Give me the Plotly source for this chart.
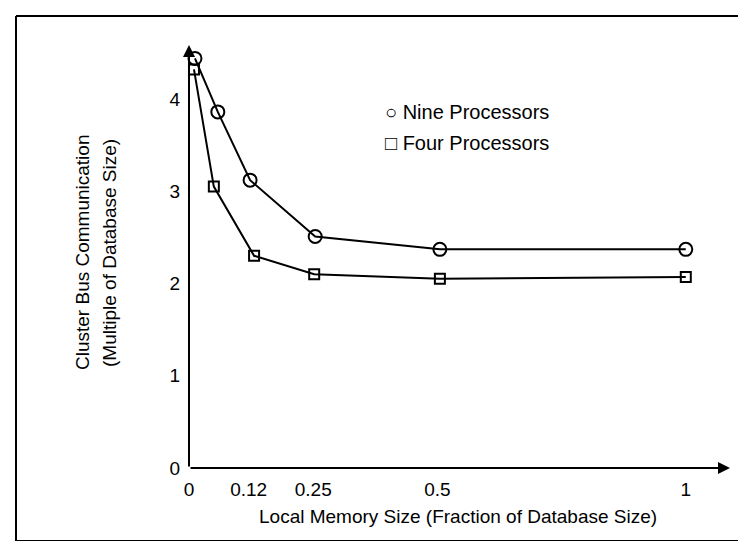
import plotly.graph_objects as go

# ---- data ----
series_names = ["Nine Processors", "Four Processors"]
x_nine = [0.012, 0.058, 0.123, 0.254, 0.505, 1.0]
y_nine = [4.44, 3.86, 3.12, 2.51, 2.37, 2.37]
x_four = [0.010, 0.050, 0.131, 0.252, 0.505, 1.0]
y_four = [4.32, 3.05, 2.30, 2.10, 2.05, 2.07]
x_tickvals = [0, 0.12, 0.25, 0.5, 1]
x_ticktext = ["0", "0.12", "0.25", "0.5", "1"]
y_tickvals = [0, 1, 2, 3, 4]
y_ticktext = ["0", "1", "2", "3", "4"]
x_title = "Local Memory Size (Fraction of Database Size)"
y_title_lines = ["Cluster Bus Communication", "(Multiple of Database Size)"]

# ---- layout geometry ----
W, H = 746, 541
L, R, T, B = 181, 24, 37, 81
XMAX, YMAX = 1.089, 4.585
FONT = "Liberation Sans, Arial, Helvetica, sans-serif"
pw, ph = W - L - R, H - T - B

def px(xp):
    return (xp - L) / pw

def py(yp):
    return (H - B - yp) / ph

fig = go.Figure()
fig.add_trace(go.Scatter(
    x=x_nine, y=y_nine, mode="lines+markers", name=series_names[0],
    line=dict(color="black", width=2),
    marker=dict(symbol="circle-open", size=13, color="black", line=dict(width=2)),
    cliponaxis=False, showlegend=False))
fig.add_trace(go.Scatter(
    x=x_four, y=y_four, mode="lines+markers", name=series_names[1],
    line=dict(color="black", width=2),
    marker=dict(symbol="square-open", size=10, color="black", line=dict(width=2)),
    cliponaxis=False, showlegend=False))

annotations = []
# axes with arrowheads
annotations.append(dict(x=XMAX, y=0, ax=0, ay=0, xref="x", yref="y", axref="x", ayref="y",
                        text="", showarrow=True, arrowhead=2, arrowsize=1.2, arrowwidth=2,
                        arrowcolor="black", standoff=0))
annotations.append(dict(x=0, y=YMAX, ax=0, ay=0, xref="x", yref="y", axref="x", ayref="y",
                        text="", showarrow=True, arrowhead=2, arrowsize=1.2, arrowwidth=2,
                        arrowcolor="black", standoff=0))
# legend as text
legend_syms = ["\u25CB", "\u25A1"]
for i, (sym, nm) in enumerate(zip(legend_syms, series_names)):
    annotations.append(dict(x=px(375), y=py(104 + 31 * i), xref="paper", yref="paper",
                            text=f"{sym} {nm}", showarrow=False, xanchor="left", yanchor="middle",
                            font=dict(family=FONT, size=20, color="black")))
# axis titles
annotations.append(dict(x=px(450), y=py(508), xref="paper", yref="paper", text=x_title,
                        showarrow=False, xanchor="center", yanchor="middle",
                        font=dict(family=FONT, size=19, color="black")))
for i, t in enumerate(y_title_lines):
    annotations.append(dict(x=px(74 + 27 * i), y=py(245), xref="paper", yref="paper", text=t,
                            showarrow=False, textangle=-90, xanchor="center", yanchor="middle",
                            font=dict(family=FONT, size=19, color="black")))

shapes = [
    dict(type="line", xref="paper", yref="paper", x0=px(8), x1=px(746), y0=py(8), y1=py(8),
         line=dict(color="black", width=2)),
    dict(type="line", xref="paper", yref="paper", x0=px(8), x1=px(8), y0=py(8), y1=py(535),
         line=dict(color="black", width=2)),
    dict(type="line", xref="paper", yref="paper", x0=px(8), x1=px(746), y0=py(534), y1=py(534),
         line=dict(color="black", width=4)),
]

fig.update_layout(
    width=W, height=H, margin=dict(l=L, r=R, t=T, b=B, autoexpand=False),
    paper_bgcolor="white", plot_bgcolor="white",
    font=dict(family=FONT, size=19, color="black"),
    annotations=annotations, shapes=shapes,
    xaxis=dict(range=[0, XMAX], showgrid=False, zeroline=False, showline=False,
               tickvals=x_tickvals, ticktext=x_ticktext, ticks="", ticklabelstandoff=8,
               tickfont=dict(family=FONT, size=19, color="black")),
    yaxis=dict(range=[0, YMAX], showgrid=False, zeroline=False, showline=False,
               tickvals=y_tickvals, ticktext=y_ticktext, ticks="", ticklabelstandoff=8,
               tickfont=dict(family=FONT, size=19, color="black")),
)

fig.write_html("out.html")
